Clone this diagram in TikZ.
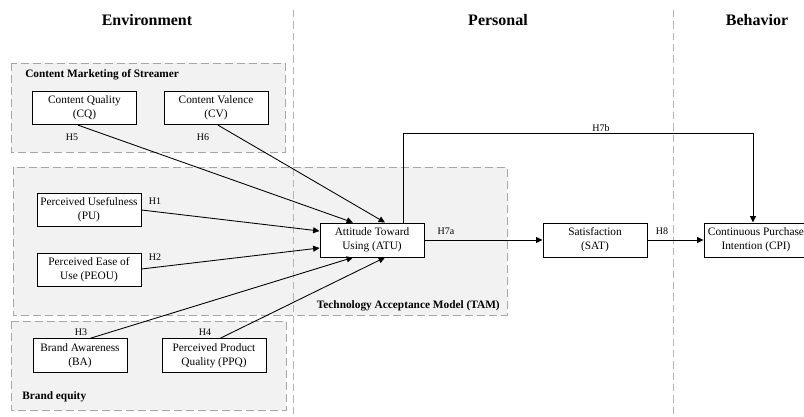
\documentclass[tikz,border=0pt]{standalone}
\usepackage{fontspec}
\setmainfont{Liberation Serif}
\usetikzlibrary{calc,arrows.meta}
\definecolor{grpfill}{HTML}{F2F2F2}
\definecolor{grpline}{HTML}{A6A6A6}
\definecolor{sepline}{HTML}{B4B4B4}
\tikzset{
  box/.style={draw, fill=white, line width=0.7pt, minimum width=78pt, minimum height=25pt,
    align=center, inner sep=1pt, font=\fontsize{8.5}{10.7}\selectfont},
  grp/.style={draw=grpline, fill=grpfill, dash pattern=on 6pt off 3pt, line width=0.6pt},
  sep/.style={draw=sepline, dash pattern=on 5.5pt off 3pt, line width=0.6pt},
  arr/.style={draw, line width=0.65pt, -{Triangle[length=4.8pt,width=4.5pt]}},
  hlab/.style={font=\fontsize{7.5}{9}\selectfont, inner sep=0pt},
  glab/.style={font=\fontsize{8.5}{10}\selectfont\bfseries, inner sep=0pt},
  head/.style={font=\fontsize{12}{14}\selectfont\bfseries, inner sep=0pt},
}
\begin{document}
\begin{tikzpicture}[x=0.75pt,y=-0.75pt]
\useasboundingbox (0,0) rectangle (804,417);
\clip (0,0) rectangle (804,417);
% group backgrounds
\path[grp] (11,63) rectangle (285,152);
\path[grp] (13,167) rectangle (507,315);
\path[grp] (11,321) rectangle (286,410);
% separators
\path[sep] (293,10) -- (293,417);
\path[sep] (673,10) -- (673,417);
% headers
\node[head] (henv) at (147,20) {Environment};
\node[head] (hper) at (498,20) {Personal};
\node[head] (hbeh) at (757,20) {Behavior};
% group labels
\node[glab, anchor=west] (gcm) at (25,75) {Content Marketing of Streamer};
\node[glab, anchor=east] (gtam) at (500,306) {Technology Acceptance Model (TAM)};
\node[glab, anchor=west] (gbe) at (22,397) {Brand equity};
% nodes
\node[box] (cq) at (84.5,108) {Content Quality\\(CQ)};
\node[box] (cv) at (216,108) {Content Valence\\(CV)};
\node[box] (pu) at (89,210) {Perceived Usefulness\\(PU)};
\node[box] (peou) at (89,270) {Perceived Ease of\\Use (PEOU)};
\node[box, minimum height=25.5pt] (atu) at (372,240) {Attitude Toward\\Using (ATU)};
\node[box, minimum height=25.5pt] (sat) at (595,240) {Satisfaction\\(SAT)};
\node[box, minimum height=25.5pt] (cpi) at (756,240) {Continuous Purchase\\Intention (CPI)};
\node[box, minimum width=70.5pt] (ba) at (80,355.5) {Brand Awareness\\(BA)};
\node[box] (ppq) at (214,355.5) {Perceived Product\\Quality (PPQ)};
% connectors
\draw[arr] ($(cq.south)+(-6.5,0)$) -- ($(atu.north)+(-19,0)$);
\draw[arr] ($(cv.south)+(2,0)$) -- ($(atu.north)+(13,0)$);
\draw[arr] (pu.east) -- ($(atu.west)+(0,-9)$);
\draw[arr] ($(peou.east)+(0,-1)$) -- ($(atu.west)+(0,8)$);
\draw[arr] ($(ba.north)+(10,0)$) -- ($(atu.south)+(-19,0)$);
\draw[arr] ($(ppq.north)+(6,0)$) -- ($(atu.south)+(13,0)$);
\draw[arr] (atu.east) -- (sat.west);
\draw[arr] (sat.east) -- (cpi.west);
\draw[arr] ($(atu.north)+(31,0)$) -- ++(0,-89) -| ($(cpi.north)+(-3,0)$);
% hypothesis labels
\node[hlab] (h5) at (72,137) {H5};
\node[hlab] (h6) at (203,137) {H6};
\node[hlab] (h1) at (155,201) {H1};
\node[hlab] (h2) at (155,257) {H2};
\node[hlab] (h3) at (81,332) {H3};
\node[hlab] (h4) at (205,332) {H4};
\node[hlab] (h7a) at (446,231) {H7a};
\node[hlab] (h8) at (662,231) {H8};
\node[hlab] (h7b) at (601,128) {H7b};
\end{tikzpicture}
\end{document}
